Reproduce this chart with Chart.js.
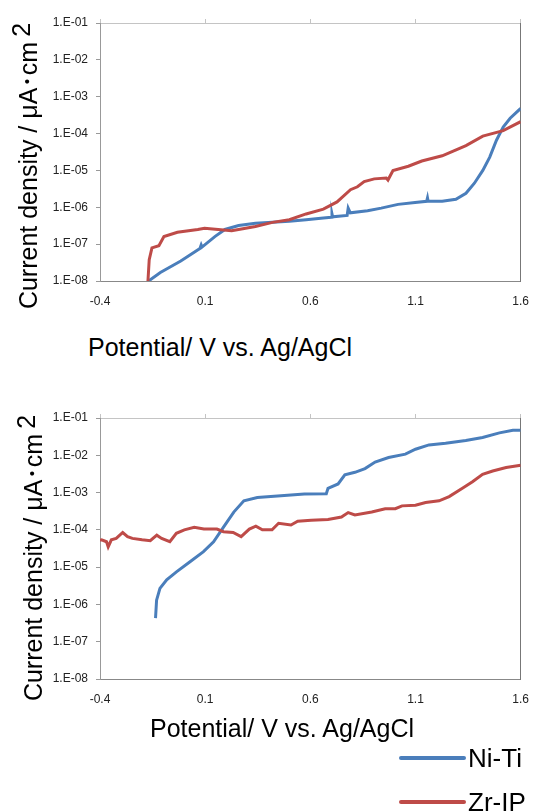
<!DOCTYPE html>
<html>
<head>
<meta charset="utf-8">
<script src="https://cdn.jsdelivr.net/npm/chart.js@4.4.1/dist/chart.umd.min.js"></script>
<style>
  body { margin: 0; background: #fff; width: 542px; height: 811px; overflow: hidden; position: relative; font-family: "Liberation Sans", Arial, sans-serif; }
  canvas { position: absolute; left: 0; }
  .ytitle { position: absolute; white-space: nowrap; font-size: 25px; color: #000; transform: translate(-50%, -50%) rotate(-90deg); }
  .ytitle sup { font-size: 25px; vertical-align: 7px; margin-left: 5px; }
  .dot { font-family: "Noto Sans CJK JP", sans-serif; }
  .xtitle { position: absolute; white-space: nowrap; font-size: 25px; color: #000; transform: translateY(-50%); }
  .legend-item { position: absolute; display: flex; align-items: center; height: 34px; }
  .legend-item .swatch { width: 67px; height: 4px; border-radius: 2px; }
  .legend-item span { font-size: 26px; margin-left: 2px; color: #000; }
</style>
</head>
<body>
<canvas id="chartTop" width="542" height="310" style="top:0"></canvas>
<canvas id="chartBottom" width="542" height="325" style="top:390px"></canvas>

<div class="ytitle" style="left:25px; top:166px">Current density / μA<span class="dot">･</span>cm<sup>2</sup></div>
<div class="ytitle" style="left:30px; top:558px">Current density / μA<span class="dot">･</span>cm<sup>2</sup></div>
<div class="xtitle" style="left:88px; top:347px">Potential/ V vs. Ag/AgCl</div>
<div class="xtitle" style="left:150px; top:728px">Potential/ V vs. Ag/AgCl</div>
<div id="legend"></div>

<script>
//data
const seriesNames = ['Ni-Ti', 'Zr-IP'];
const seriesColors = ['#4a7ebb', '#be4b48'];

const xTicks = [-0.4, 0.1, 0.6, 1.1, 1.6];
const yTicks = [1e-8, 1e-7, 1e-6, 1e-5, 1e-4, 1e-3, 1e-2, 1e-1];
const yTickLabels = ['1.E-08', '1.E-07', '1.E-06', '1.E-05', '1.E-04', '1.E-03', '1.E-02', '1.E-01'];

// top panel
const topNiTiV = [-0.169, -0.113, -0.016, 0.075, 0.081, 0.085, 0.146, 0.194, 0.259, 0.339, 0.42, 0.50, 0.58, 0.662, 0.700, 0.703, 0.706, 0.775, 0.780, 0.790, 0.872, 0.937, 1.017, 1.098, 1.153, 1.157, 1.160, 1.227, 1.292, 1.34, 1.38, 1.42, 1.453, 1.485, 1.517, 1.55, 1.6];
const topNiTiJ = [1.0e-8, 1.7e-8, 3.5e-8, 7.6e-8, 9.5e-8, 8.3e-8, 1.6e-7, 2.5e-7, 3.2e-7, 3.7e-7, 3.9e-7, 4.2e-7, 4.6e-7, 5.1e-7, 5.4e-7, 6.6e-7, 5.5e-7, 6.0e-7, 9.5e-7, 7.1e-7, 8.1e-7, 9.5e-7, 1.2e-6, 1.35e-6, 1.45e-6, 1.8e-6, 1.45e-6, 1.45e-6, 1.65e-6, 2.4e-6, 4.5e-6, 1.0e-5, 2.3e-5, 6.6e-5, 1.5e-4, 2.6e-4, 4.8e-4];
const topZrIpV = [-0.172, -0.166, -0.153, -0.12, -0.096, -0.032, 0.065, 0.097, 0.162, 0.226, 0.339, 0.42, 0.50, 0.58, 0.662, 0.727, 0.791, 0.824, 0.856, 0.904, 0.961, 0.969, 0.993, 1.066, 1.13, 1.227, 1.26, 1.34, 1.42, 1.517, 1.6];
const topZrIpJ = [1.0e-8, 3.8e-8, 7.9e-8, 9.1e-8, 1.6e-7, 2.1e-7, 2.5e-7, 2.7e-7, 2.5e-7, 2.3e-7, 3.0e-7, 3.9e-7, 4.6e-7, 6.6e-7, 8.9e-7, 1.4e-6, 3.0e-6, 3.6e-6, 5.0e-6, 5.9e-6, 6.2e-6, 5.5e-6, 1.0e-5, 1.3e-5, 1.8e-5, 2.5e-5, 3.0e-5, 4.7e-5, 8.5e-5, 1.2e-4, 2.1e-4];

// bottom panel
const botNiTiV = [-0.136, -0.131, -0.115, -0.083, -0.035, 0.028, 0.092, 0.14, 0.188, 0.236, 0.284, 0.348, 0.444, 0.572, 0.676, 0.684, 0.732, 0.764, 0.812, 0.86, 0.908, 0.972, 1.052, 1.10, 1.164, 1.243, 1.339, 1.419, 1.499, 1.563, 1.6];
const botNiTiJ = [4.3e-7, 1.3e-6, 2.7e-6, 4.6e-6, 7.6e-6, 1.4e-5, 2.6e-5, 4.8e-5, 1.2e-4, 3.0e-4, 6.0e-4, 7.4e-4, 8.1e-4, 9.1e-4, 9.3e-4, 1.3e-3, 1.7e-3, 3.0e-3, 3.5e-3, 4.4e-3, 6.6e-3, 8.7e-3, 1.07e-2, 1.45e-2, 1.9e-2, 2.1e-2, 2.5e-2, 3.0e-2, 4.0e-2, 4.7e-2, 4.7e-2];
const botZrIpV = [-0.4, -0.392, -0.369, -0.361, -0.346, -0.323, -0.292, -0.269, -0.246, -0.20, -0.161, -0.13, -0.107, -0.068, -0.037, 0.001, 0.048, 0.094, 0.156, 0.187, 0.233, 0.271, 0.31, 0.341, 0.372, 0.418, 0.449, 0.508, 0.54, 0.604, 0.684, 0.748, 0.78, 0.812, 0.892, 0.956, 1.004, 1.036, 1.10, 1.148, 1.212, 1.26, 1.323, 1.371, 1.419, 1.467, 1.531, 1.6];
const botZrIpJ = [5.2e-5, 5.4e-5, 4.8e-5, 3.5e-5, 5.4e-5, 5.9e-5, 8.5e-5, 6.6e-5, 5.9e-5, 5.4e-5, 5.1e-5, 7.2e-5, 5.9e-5, 4.8e-5, 8.1e-5, 1.0e-4, 1.17e-4, 1.05e-4, 1.05e-4, 8.9e-5, 8.5e-5, 6.6e-5, 1.05e-4, 1.26e-4, 1.0e-4, 1.0e-4, 1.5e-4, 1.35e-4, 1.7e-4, 1.8e-4, 1.9e-4, 2.2e-4, 2.9e-4, 2.5e-4, 3.0e-4, 3.7e-4, 3.7e-4, 4.4e-4, 4.6e-4, 5.4e-4, 6.0e-4, 7.8e-4, 1.3e-3, 1.95e-3, 3.1e-3, 3.8e-3, 4.7e-3, 5.4e-3];

const tickFont = { family: '"Liberation Sans", Arial, sans-serif', size: 12 };

function toPoints(xs, ys) {
    return xs.map((x, i) => ({ x: x, y: ys[i] }));
}

function lineDataset(i, xs, ys) {
    return {
        label: seriesNames[i],
        data: toPoints(xs, ys),
        borderColor: seriesColors[i],
        borderWidth: 3,
        pointRadius: 0,
        tension: 0,
        fill: false
    };
}

function makeChart(id, canvasHeight, plotTop, plotBottom, plotLeft, plotRight, niTi, zrIp) {
    const ctx = document.getElementById(id).getContext('2d');
    return new Chart(ctx, {
        type: 'line',
        data: {
            datasets: [
                lineDataset(1, zrIp[0], zrIp[1]),
                lineDataset(0, niTi[0], niTi[1])
            ]
        },
        options: {
            responsive: false,
            animation: false,
            layout: { padding: { top: plotTop, right: 542 - plotRight, left: 0, bottom: 0 } },
            plugins: { legend: { display: false }, tooltip: { enabled: false } },
            scales: {
                x: {
                    type: 'linear', min: -0.4, max: 1.6,
                    afterBuildTicks: s => { s.ticks = xTicks.map(v => ({ value: v })); },
                    afterFit: s => { s.height = canvasHeight - plotBottom; },
                    ticks: { color: '#222', font: tickFont, padding: 13, maxRotation: 0, callback: v => v.toFixed(1) },
                    grid: { drawOnChartArea: false, drawTicks: false, color: '#888' },
                    border: { color: '#888' }
                },
                xTop: {
                    type: 'linear', position: 'top', min: -0.4, max: 1.6,
                    afterBuildTicks: s => { s.ticks = xTicks.map(v => ({ value: v })); },
                    afterFit: s => { s.height = 0; },
                    ticks: { display: false },
                    grid: { drawOnChartArea: false, tickLength: 4, color: '#c4c4c4' },
                    border: { color: '#c4c4c4' }
                },
                y: {
                    type: 'logarithmic', min: 1e-8, max: 1e-1,
                    afterBuildTicks: s => { s.ticks = yTicks.map(v => ({ value: v })); },
                    afterFit: s => { s.width = plotLeft; },
                    ticks: { color: '#222', font: tickFont, padding: 8, callback: (v, i) => yTickLabels[i] },
                    grid: { drawOnChartArea: false, tickLength: 4, color: '#999' },
                    border: { color: '#999' }
                },
                yRight: {
                    type: 'logarithmic', position: 'right', min: 1e-8, max: 1e-1,
                    afterFit: s => { s.width = 0; },
                    ticks: { display: false },
                    grid: { drawOnChartArea: false, drawTicks: false },
                    border: { color: '#777' }
                }
            }
        }
    });
}

makeChart('chartTop', 310, 23, 281, 100, 528, [topNiTiV, topNiTiJ], [topZrIpV, topZrIpJ]);
makeChart('chartBottom', 325, 28, 289, 100, 532, [botNiTiV, botNiTiJ], [botZrIpV, botZrIpJ]);

// legend under the lower chart
const legendCenters = [758, 802];
const legend = document.getElementById('legend');
seriesNames.forEach((name, i) => {
    const item = document.createElement('div');
    item.className = 'legend-item';
    item.style.left = '399px';
    item.style.top = (legendCenters[i] - 17) + 'px';
    item.innerHTML = '<div class="swatch" style="background:' + seriesColors[i] + '"></div><span>' + name + '</span>';
    legend.appendChild(item);
});
</script>
</body>
</html>
